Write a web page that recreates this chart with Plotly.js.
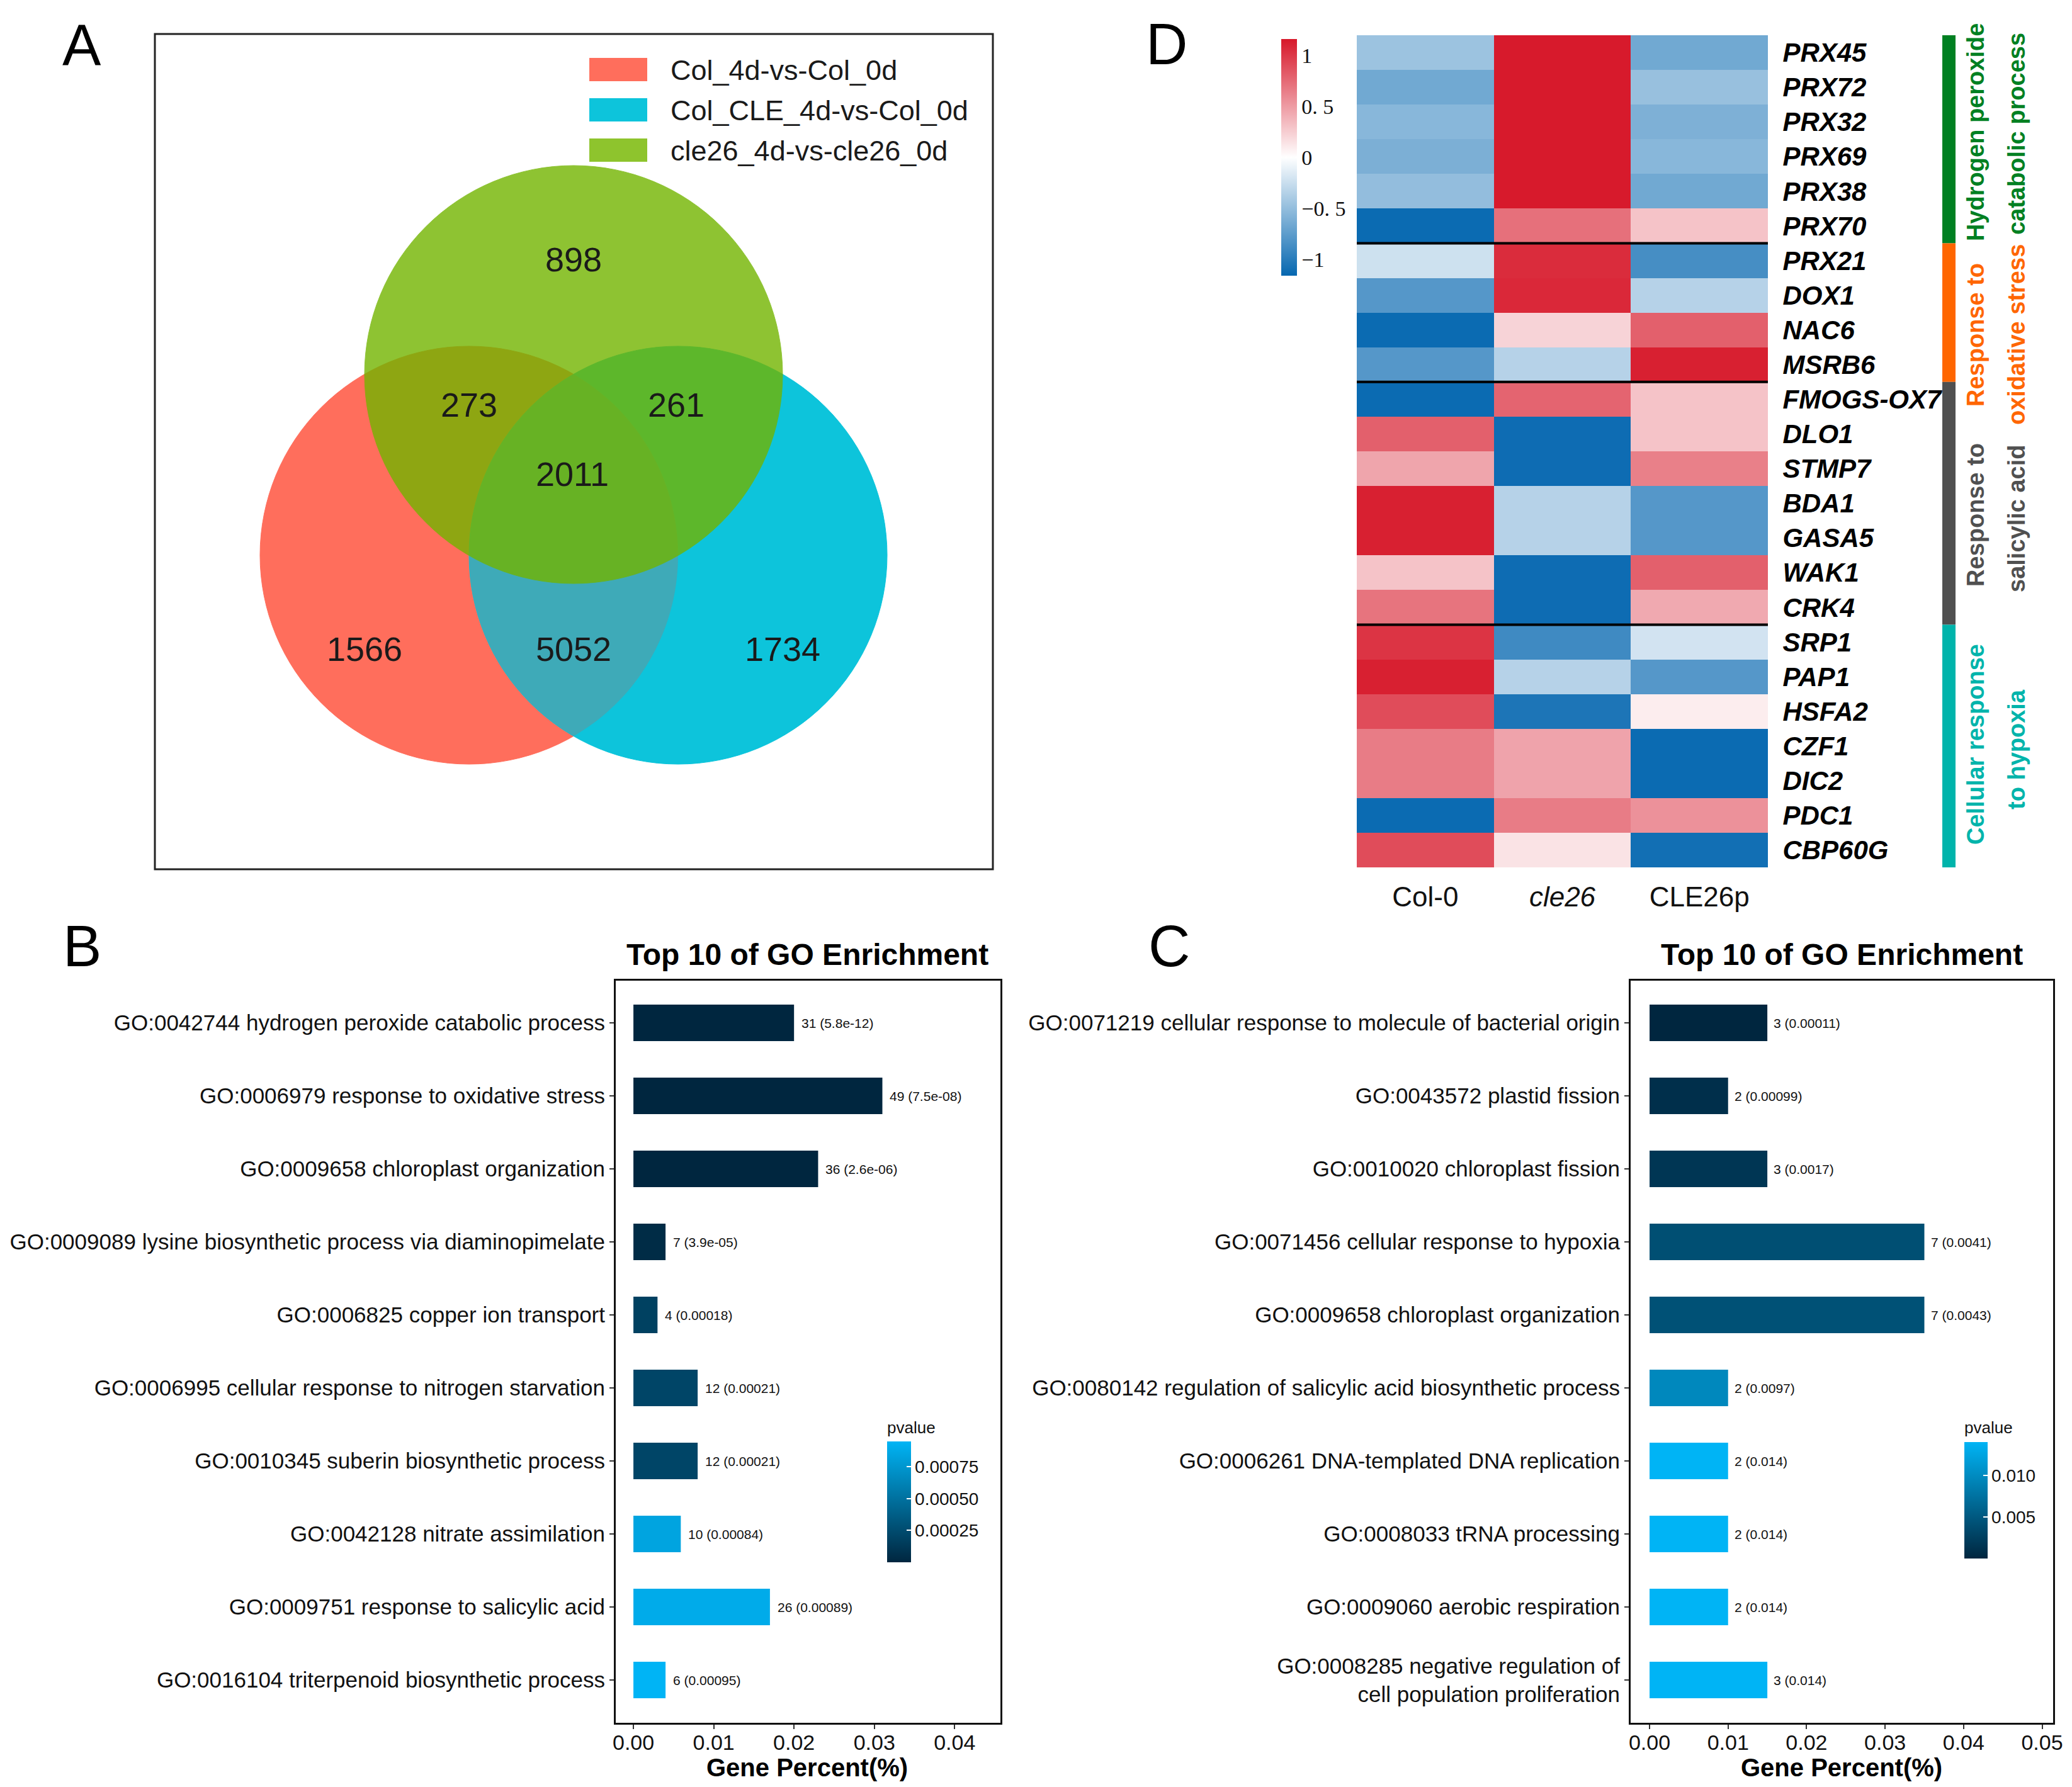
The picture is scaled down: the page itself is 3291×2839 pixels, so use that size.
<!DOCTYPE html>
<html><head><meta charset="utf-8">
<script src="https://cdn.plot.ly/plotly-3.0.1.min.js"></script>
<style>html,body{margin:0;padding:0;background:#fff}</style>
</head><body><div id="chart" style="width:3291px;height:2839px"></div>
<script>
// ---------------- DATA ----------------
// Panel A: Venn
const vennSets = ['Col_4d-vs-Col_0d', 'Col_CLE_4d-vs-Col_0d', 'cle26_4d-vs-cle26_0d'];
const vennRegions = ['A', 'B', 'C', 'AB', 'AC', 'BC', 'ABC'];
const vennCounts = [1566, 1734, 898, 5052, 273, 261, 2011];

// Panel D: heatmap
const genes = ['PRX45','PRX72','PRX32','PRX69','PRX38','PRX70','PRX21','DOX1','NAC6','MSRB6',
  'FMOGS-OX7','DLO1','STMP7','BDA1','GASA5','WAK1','CRK4','SRP1','PAP1','HSFA2','CZF1','DIC2','PDC1','CBP60G'];
const samples = ['Col-0', '<i>cle26</i>', 'CLE26p'];
const valCol0 = [-0.46,-0.66,-0.55,-0.61,-0.50,-1.13,-0.23,-0.79,-1.13,-0.79,-1.13,0.80,0.45,1.12,1.12,0.30,0.70,1.02,1.12,0.90,0.66,0.66,-1.13,0.90];
const valCle26 = [1.15,1.15,1.15,1.15,1.15,0.72,1.06,1.08,0.22,-0.34,0.78,-1.12,-1.12,-0.34,-0.34,-1.12,-1.12,-0.89,-0.34,-1.05,0.46,0.46,0.66,0.14];
const valCLE26p = [-0.66,-0.48,-0.60,-0.55,-0.66,0.30,-0.86,-0.34,0.80,1.12,0.30,0.30,0.64,-0.79,-0.79,0.80,0.43,-0.21,-0.79,0.09,-1.13,-1.13,0.55,-1.10];
const groupLine1 = ['Hydrogen peroxide', 'Response to', 'Response to', 'Cellular response'];
const groupLine2 = ['catabolic process', 'oxidative stress', 'salicylic acid', 'to hypoxia'];
const groupSizes = [6, 4, 7, 7];
const heatTicks = [-1, -0.5, 0, 0.5, 1];
const heatTickText = ['\u22121', '\u22120. 5', '0', '0. 5', '1'];

// Panel B: GO enrichment
const goTermsB = ['GO:0042744 hydrogen peroxide catabolic process','GO:0006979 response to oxidative stress',
  'GO:0009658 chloroplast organization','GO:0009089 lysine biosynthetic process via diaminopimelate',
  'GO:0006825 copper ion transport','GO:0006995 cellular response to nitrogen starvation',
  'GO:0010345 suberin biosynthetic process','GO:0042128 nitrate assimilation',
  'GO:0009751 response to salicylic acid','GO:0016104 triterpenoid biosynthetic process'];
const ratioB = [0.0200, 0.0310, 0.0230, 0.0040, 0.0030, 0.0080, 0.0080, 0.0059, 0.0170, 0.0040];
const countB = [31, 49, 36, 7, 4, 12, 12, 10, 26, 6];
const pvalB = ['5.8e-12','7.5e-08','2.6e-06','3.9e-05','0.00018','0.00021','0.00021','0.00084','0.00089','0.00095'];
const cbTicksB = [0.00025, 0.0005, 0.00075];
const cbTextB = ['0.00025', '0.00050', '0.00075'];

// Panel C: GO enrichment
const goTermsC = ['GO:0071219 cellular response to molecule of bacterial origin','GO:0043572 plastid fission',
  'GO:0010020 chloroplast fission','GO:0071456 cellular response to hypoxia',
  'GO:0009658 chloroplast organization','GO:0080142 regulation of salicylic acid biosynthetic process',
  'GO:0006261 DNA-templated DNA replication','GO:0008033 tRNA processing',
  'GO:0009060 aerobic respiration','GO:0008285 negative regulation of<br>cell population proliferation'];
const ratioC = [0.015, 0.010, 0.015, 0.035, 0.035, 0.010, 0.010, 0.010, 0.010, 0.015];
const countC = [3, 2, 3, 7, 7, 2, 2, 2, 2, 3];
const pvalC = ['0.00011','0.00099','0.0017','0.0041','0.0043','0.0097','0.014','0.014','0.014','0.014'];
const cbTicksC = [0.005, 0.010];
const cbTextC = ['0.005', '0.010'];
const xTicksB = [0, 0.01, 0.02, 0.03, 0.04];
const xTicksC = [0, 0.01, 0.02, 0.03, 0.04, 0.05];

// ---------------- LAYOUT HELPERS ----------------
const W = 3291, H = 2839;
const fx = p => p / W;
const fy = p => 1 - p / H;
const FONT = 'Liberation Sans, Arial, sans-serif';
const TXT = '#111111';

const shapes = [];
const annotations = [];
const traces = [];
const ann = o => annotations.push(Object.assign({showarrow: false, xanchor: 'center', yanchor: 'middle'}, o));

// ---------------- PANEL A (Venn) ----------------
const legendColors = ['#FF6E5C', '#0DC4DB', '#8EC42D'];
const R = 332;
const cr = [499, 828], cc = [831, 828], cg = [665, 541]; // circle centres in box-pixel units (y down)
[[cr, '#FF6E5C'], [cc, '#0DC4DB']].forEach(([c, col]) => {
  shapes.push({type: 'circle', xref: 'x', yref: 'y', x0: c[0] - R, x1: c[0] + R, y0: c[1] - R, y1: c[1] + R,
    fillcolor: col, line: {color: col, width: 1}});
});
function arcSeg(c, r, a0, a1) {
  const k = 4 / 3 * Math.tan((a1 - a0) / 4);
  const p0 = [c[0] + r * Math.cos(a0), c[1] + r * Math.sin(a0)];
  const p3 = [c[0] + r * Math.cos(a1), c[1] + r * Math.sin(a1)];
  const c1 = [p0[0] - k * r * Math.sin(a0), p0[1] + k * r * Math.cos(a0)];
  const c2 = [p3[0] + k * r * Math.sin(a1), p3[1] - k * r * Math.cos(a1)];
  return ` C ${c1[0]},${c1[1]} ${c2[0]},${c2[1]} ${p3[0]},${p3[1]}`;
}
const half = Math.acos((cc[0] - cr[0]) / 2 / R);
const start0 = [cr[0] + R * Math.cos(-half), cr[1] + R * Math.sin(-half)];
let lens = `M ${start0[0]},${start0[1]}`;
lens += arcSeg(cr, R, -half, 0) + arcSeg(cr, R, 0, half);
lens += arcSeg(cc, R, Math.PI - half, Math.PI) + arcSeg(cc, R, Math.PI, Math.PI + half) + ' Z';
shapes.push({type: 'path', xref: 'x', yref: 'y', path: lens, fillcolor: '#3EAAB8', line: {width: 0}});
shapes.push({type: 'circle', xref: 'x', yref: 'y', x0: cg[0] - R, x1: cg[0] + R, y0: cg[1] - R, y1: cg[1] + R,
  fillcolor: 'rgb(114,181,0)', opacity: 0.8, line: {color: 'rgb(114,181,0)', width: 1}});

const regionPos = {
  A: [cr[0] - 0.5 * R, cr[1] + 0.45 * R],
  B: [cc[0] + 0.5 * R, cr[1] + 0.45 * R],
  C: [cg[0], cg[1] - 0.55 * R],
  AB: [cg[0], cr[1] + 0.45 * R],
  AC: [cr[0], cg[1] + 0.145 * R],
  BC: [cc[0] - 3, cg[1] + 0.145 * R],
  ABC: [cg[0] - 2, cg[1] + 0.476 * R]
};
vennRegions.forEach((r, i) => {
  ann({xref: 'x', yref: 'y', x: regionPos[r][0], y: regionPos[r][1], text: String(vennCounts[i]),
    font: {family: FONT, size: 54, color: '#1a1a1a'}});
});
vennSets.forEach((s, i) => {
  const y0 = 39 + i * 64;
  shapes.push({type: 'rect', xref: 'x', yref: 'y', x0: 691, x1: 781, y0: y0, y1: y0 + 35,
    fillcolor: legendColors[i], line: {color: legendColors[i], width: 2}});
  ann({xref: 'x', yref: 'y', x: 817, y: y0 + 18, xanchor: 'left', text: s,
    font: {family: FONT, size: 45, color: '#1a1a1a'}});
});
shapes.push({type: 'rect', xref: 'paper', yref: 'paper', x0: fx(246), x1: fx(1577), y0: fy(1381), y1: fy(54),
  line: {color: '#222', width: 3}, fillcolor: 'rgba(0,0,0,0)'});
traces.push({type: 'scatter', x: [0], y: [0], mode: 'markers', marker: {opacity: 0}, xaxis: 'x', yaxis: 'y', hoverinfo: 'skip'});

// ---------------- PANEL D (heatmap) ----------------
const z = genes.map((g, i) => [valCol0[i], valCle26[i], valCLE26p[i]]);
traces.push({type: 'heatmap', z: z, x: [0, 1, 2], y: genes.map((g, i) => i), xaxis: 'x2', yaxis: 'y2',
  coloraxis: 'coloraxis', hoverinfo: 'skip'});
const groupColors = ['#008022', '#FF6600', '#505050', '#00B4AB'];
let start = 0;
groupSizes.forEach((n, gi) => {
  shapes.push({type: 'rect', xref: 'paper', yref: 'y2', x0: fx(3085), x1: fx(3106), y0: start - 0.5, y1: start + n - 0.5,
    fillcolor: groupColors[gi], line: {width: 0}});
  if (gi < groupSizes.length - 1) {
    shapes.push({type: 'line', xref: 'x2', yref: 'y2', x0: -0.5, x1: 2.5, y0: start + n - 0.5, y1: start + n - 0.5,
      line: {color: '#000', width: 4}});
  }
  start += n;
});
const line1Y = [210, 532, 818, 1183];
const line2Y = [213, 532, 824, 1191];
groupLine1.forEach((t, gi) => {
  ann({xref: 'paper', yref: 'paper', x: fx(3138), y: fy(line1Y[gi]), text: '<b>' + t + '</b>', textangle: -90,
    font: {family: FONT, size: 38, color: groupColors[gi]}});
  ann({xref: 'paper', yref: 'paper', x: fx(3203), y: fy(line2Y[gi]), text: '<b>' + groupLine2[gi] + '</b>', textangle: -90,
    font: {family: FONT, size: 38, color: groupColors[gi]}});
});

// ---------------- PANELS B & C (bars) ----------------
function goPanel(terms, ratio, count, pval, xa, ya, cax, shift) {
  traces.push({type: 'bar', orientation: 'h', x: ratio, y: terms.map((t, i) => i), width: 0.5,
    marker: {color: pval.map(Number), coloraxis: cax, line: {width: 0}}, xaxis: xa, yaxis: ya, hoverinfo: 'skip'});
  ratio.forEach((v, i) => {
    ann({xref: xa, yref: ya, x: v, y: i, xanchor: 'left', xshift: shift,
      text: count[i] + ' (' + pval[i] + ')', font: {family: FONT, size: 21, color: TXT}});
  });
}
goPanel(goTermsB, ratioB, countB, pvalB, 'x3', 'y3', 'coloraxis2', 10);
goPanel(goTermsC, ratioC, countC, pvalC, 'x4', 'y4', 'coloraxis3', 8);

function barX(domain, range, ticks, anchor) {
  return {domain: domain, range: range, anchor: anchor, tickvals: ticks, ticktext: ticks.map(v => v.toFixed(2)),
    ticks: 'outside', ticklen: 7, tickwidth: 2, tickcolor: '#333', showline: true, mirror: true, linewidth: 3,
    linecolor: '#111', showgrid: false, zeroline: false, ticklabelstandoff: -8,
    tickfont: {family: FONT, size: 34, color: TXT}};
}
function barY(domain, terms, anchor) {
  return {domain: domain, range: [9.586, -0.578], anchor: anchor, tickvals: terms.map((t, i) => i), ticktext: terms,
    ticks: 'outside', ticklen: 7, tickwidth: 2, tickcolor: '#333', showline: true, mirror: true, linewidth: 3,
    linecolor: '#111', showgrid: false, zeroline: false, tickfont: {family: FONT, size: 35, color: TXT}};
}

const letter = (t, x, y) => ann({xref: 'paper', yref: 'paper', x: fx(x), y: fy(y), text: t,
  font: {family: FONT, size: 92, color: '#000'}});
letter('A', 130, 72); letter('D', 1853, 70); letter('B', 130, 1503); letter('C', 1857, 1503);
[1282, 2925].forEach(cx => {
  ann({xref: 'paper', yref: 'paper', x: fx(cx), y: fy(1516), text: '<b>Top 10 of GO Enrichment</b>',
    font: {family: FONT, size: 48, color: '#000'}});
  ann({xref: 'paper', yref: 'paper', x: fx(cx), y: fy(2808), text: '<b>Gene Percent(%)</b>',
    font: {family: FONT, size: 40, color: '#000'}});
});
ann({xref: 'paper', yref: 'paper', x: fx(1407), y: fy(2268), xanchor: 'left', text: 'pvalue',
  font: {family: FONT, size: 26, color: TXT}});
ann({xref: 'paper', yref: 'paper', x: fx(3118), y: fy(2268), xanchor: 'left', text: 'pvalue',
  font: {family: FONT, size: 26, color: TXT}});

const pb = [[0, '#00263F'], [1, '#00B4F5']];
const layout = {
  width: W, height: H, margin: {l: 0, r: 0, t: 0, b: 0}, paper_bgcolor: '#fff', plot_bgcolor: 'rgba(0,0,0,0)',
  showlegend: false, hovermode: false, font: {family: FONT},
  xaxis: {domain: [fx(246), fx(1577)], range: [0, 1331], visible: false, fixedrange: true},
  yaxis: {domain: [fy(1381), fy(54)], range: [1327, 0], visible: false, fixedrange: true},
  xaxis2: {domain: [fx(2155), fx(2808)], range: [-0.5, 2.5], anchor: 'y2', tickvals: [0, 1, 2], ticktext: samples,
    ticks: 'outside', ticklen: 8, tickcolor: 'rgba(0,0,0,0)', showgrid: false, zeroline: false, showline: false,
    tickfont: {family: FONT, size: 44, color: TXT}},
  yaxis2: {domain: [fy(1378), fy(56)], range: [23.5, -0.5], anchor: 'x2', side: 'right', tickvals: genes.map((g, i) => i),
    ticktext: genes, ticks: 'outside', ticklen: 14, tickcolor: 'rgba(0,0,0,0)', showgrid: false, zeroline: false,
    tickfont: {family: FONT, size: 42, color: '#000', weight: 'bold', style: 'italic'}},
  xaxis3: barX([fx(978), fx(1589)], [-0.0022, 0.0457], xTicksB, 'y3'),
  yaxis3: barY([fy(2737), fy(1558)], goTermsB, 'x3'),
  xaxis4: barX([fx(2590), fx(3261)], [-0.00241, 0.0514], xTicksC, 'y4'),
  yaxis4: barY([fy(2737), fy(1558)], goTermsC, 'x4'),
  coloraxis: {colorscale: [[0, '#0567B0'], [0.5, '#FFFFFF'], [1, '#D7182A']], cmin: -1.16, cmax: 1.16,
    colorbar: {x: fx(2035), xanchor: 'left', y: fy(250), yanchor: 'middle', len: 376, lenmode: 'pixels', thickness: 25,
      xpad: 0, ypad: 0, outlinewidth: 0, tickvals: heatTicks, ticktext: heatTickText, ticks: '',
      tickfont: {family: 'Liberation Serif, serif', size: 34, color: '#111'}}},
  coloraxis2: {colorscale: pb, cmin: 5.8e-12, cmax: 0.00095,
    colorbar: {x: fx(1409), xanchor: 'left', y: fy(2386), yanchor: 'middle', len: 192, lenmode: 'pixels', thickness: 38,
      xpad: 0, ypad: 0, outlinewidth: 0, tickvals: cbTicksB, ticktext: cbTextB, ticks: 'inside', ticklen: 7, tickwidth: 2,
      tickcolor: '#fff', tickfont: {family: FONT, size: 28, color: TXT}}},
  coloraxis3: {colorscale: pb, cmin: 0.00011, cmax: 0.014,
    colorbar: {x: fx(3120), xanchor: 'left', y: fy(2383), yanchor: 'middle', len: 185, lenmode: 'pixels', thickness: 37,
      xpad: 0, ypad: 0, outlinewidth: 0, tickvals: cbTicksC, ticktext: cbTextC, ticks: 'inside', ticklen: 7, tickwidth: 2,
      tickcolor: '#fff', tickfont: {family: FONT, size: 28, color: TXT}}},
  shapes: shapes, annotations: annotations
};
Plotly.newPlot('chart', traces, layout, {staticPlot: true, displayModeBar: false});
</script></body></html>
